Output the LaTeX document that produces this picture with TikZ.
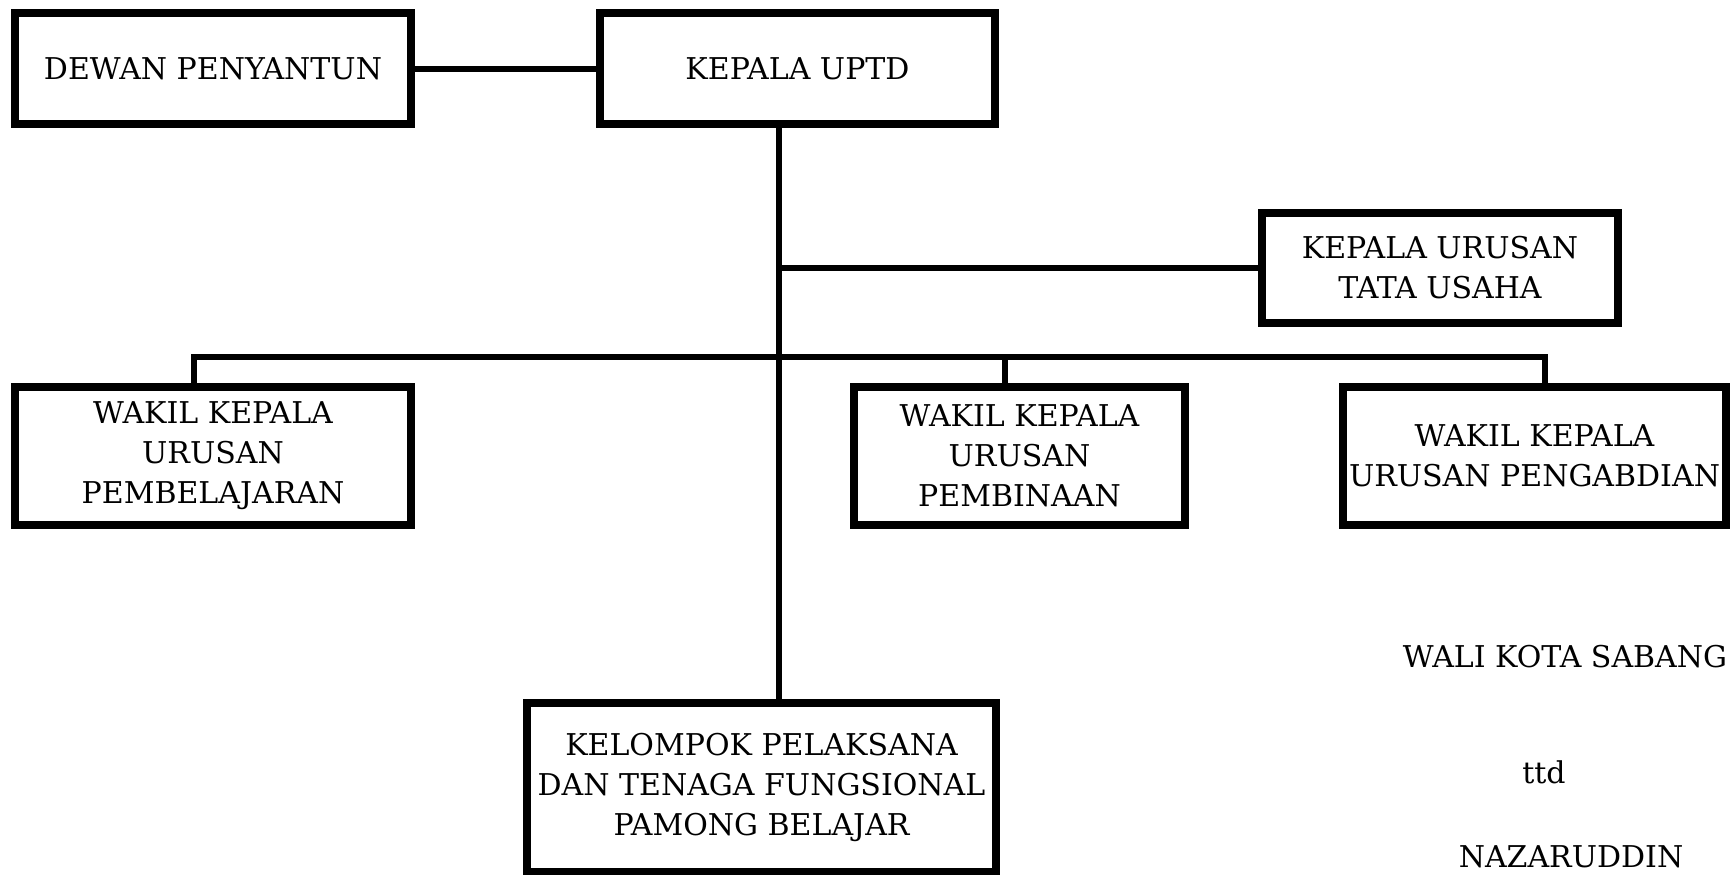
\documentclass[tikz,border=0pt]{standalone}
\usepackage{fontspec}
\setmainfont{DejaVu Serif}
\usepackage{tikz}
\tikzset{%
  % Specifications for style of nodes:
       orgbox/.style = {rectangle, draw=black, line width=4pt,
                        inner sep=0pt, align=center,
                        font=\fontsize{15pt}{20pt}\selectfont},
      signtxt/.style = {anchor=base, inner sep=0pt,
                        font=\fontsize{15pt}{20pt}\selectfont},
         link/.style = {draw=black, line width=3pt},
}

\begin{document}
\begin{tikzpicture}[x=0.5pt, y=-0.5pt]
  \clip (0,0) rectangle (1730,874);
  % Specification of nodes (position, etc.)
  \node (dewan) [orgbox, minimum width=198pt, minimum height=55.5pt] at (213,68.5) {DEWAN PENYANTUN};
  \node (kepala) [orgbox, minimum width=197.5pt, minimum height=55.5pt] at (797.5,68.5) {KEPALA UPTD};
  \node (tataUsaha) [orgbox, minimum width=178pt, minimum height=55pt] at (1440,268) {KEPALA URUSAN\\TATA USAHA};
  \node (wakilBelajar) [orgbox, minimum width=198pt, minimum height=69pt] at (213,455.5) {WAKIL KEPALA\\URUSAN\\PEMBELAJARAN};
  \node (wakilBina) [orgbox, minimum width=165.5pt, minimum height=69pt] at (1019.5,455.5) {WAKIL KEPALA\\URUSAN\\PEMBINAAN};
  \node (wakilAbdi) [orgbox, minimum width=191.5pt, minimum height=69pt] at (1534.5,455.5) {WAKIL KEPALA\\URUSAN PENGABDIAN};
  \node (kelompok) [orgbox, minimum width=234.5pt, minimum height=84.5pt] at (761.5,787) {KELOMPOK PELAKSANA\\DAN TENAGA FUNGSIONAL\\PAMONG BELAJAR};

  % signature block
  \node (wali) [signtxt] at (1565,667) {WALI KOTA SABANG};
  \node (ttd) [signtxt] at (1544,783) {ttd};
  \node (nama) [signtxt] at (1571,867) {NAZARUDDIN};

  % Specification of lines between nodes specified above
  \coordinate (trunk) at (779,0);
  \coordinate (barL) at (194,357);
  \coordinate (barM) at (1005,357);
  \coordinate (barR) at (1545,357);
  \draw[link] (dewan) -- (kepala);
  \draw[link] (kepala.south -| trunk) -- (kelompok.north -| trunk);
  \draw[link] (tataUsaha.west -| trunk) -- (tataUsaha.west);
  \draw[link] (wakilBelajar.north -| barL) -- (barL) -- (barR) -- (wakilAbdi.north -| barR);
  \draw[link] (barM) -- (wakilBina.north -| barM);
\end{tikzpicture}
\end{document}
